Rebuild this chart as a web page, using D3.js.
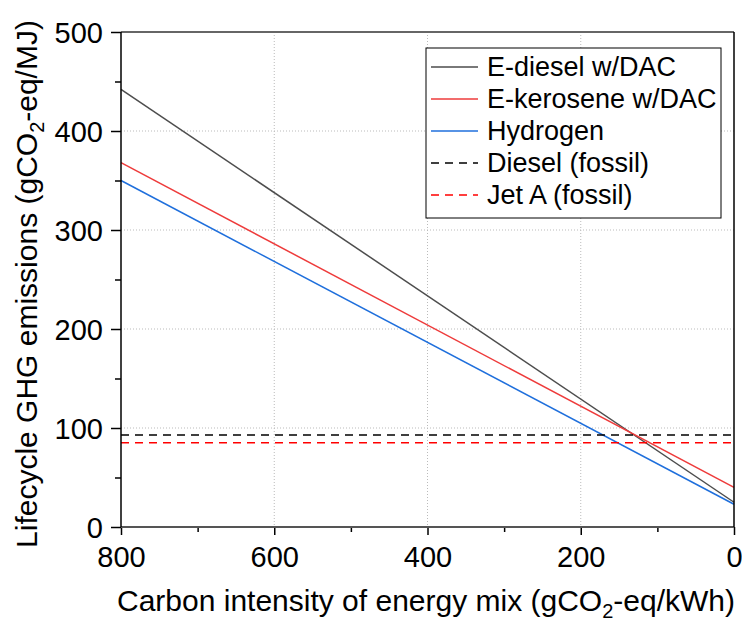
<!DOCTYPE html>
<html>
<head>
<meta charset="utf-8">
<script src="https://cdn.jsdelivr.net/npm/d3@7"></script>
<style>
  body { margin: 0; background: #fff; }
  text { font-family: "Liberation Sans", Arial, sans-serif; fill: #000; }
</style>
</head>
<body>
<svg id="chart"></svg>
<script>
// carbon intensity of the energy mix (x), emissions at both ends (y)
var intensity = [800, 0];
var series = ["E-diesel w/DAC", "E-kerosene w/DAC", "Hydrogen", "Diesel (fossil)", "Jet A (fossil)"];
var eDiesel = [442, 25];
var eKerosene = [368, 40];
var hydrogen = [350, 23];
var dieselFossil = [93, 93];
var jetAFossil = [85, 85];

var xTicks = [800, 600, 400, 200, 0];
var yTicks = [0, 100, 200, 300, 400, 500];

const margin = { top: 32, right: 8, bottom: 93, left: 121 },
  width = 742 - margin.left - margin.right,
  height = 620 - margin.top - margin.bottom;

const svg = d3.select("#chart")
  .attr("width", 742)
  .attr("height", 620);
const g = svg.append("g")
  .attr("transform", "translate(" + margin.left + "," + margin.top + ")");

var x = d3.scaleLinear().domain([800, 0]).range([0, width]);
var y = d3.scaleLinear().domain([0, 500]).range([height, 0]);

// dotted grid
g.selectAll("line.gx")
  .data(xTicks.filter(d => d != 800 && d != 0))
  .enter().append("line")
  .attr("x1", d => x(d)).attr("x2", d => x(d))
  .attr("y1", 0).attr("y2", height)
  .attr("stroke", "#bbb").attr("stroke-width", 1)
  .attr("stroke-dasharray", "1,2");
g.selectAll("line.gy")
  .data(yTicks.filter(d => d != 0 && d != 500))
  .enter().append("line")
  .attr("x1", 0).attr("x2", width)
  .attr("y1", d => y(d)).attr("y2", d => y(d))
  .attr("stroke", "#bbb").attr("stroke-width", 1)
  .attr("stroke-dasharray", "1,2");

// lines
var lines = [
  { name: series[0], values: eDiesel, color: "#4d4d4d", dash: null },
  { name: series[1], values: eKerosene, color: "#ee3b3b", dash: null },
  { name: series[2], values: hydrogen, color: "#1f6fdc", dash: null },
  { name: series[3], values: dieselFossil, color: "#000", dash: "8,6" },
  { name: series[4], values: jetAFossil, color: "#ff0000", dash: "8,6" }
];

var line = d3.line()
  .x(function (d, i) { return x(intensity[i]); })
  .y(function (d) { return y(d); });

g.selectAll("path.series")
  .data(lines)
  .enter().append("path")
  .attr("class", "series")
  .attr("d", d => line(d.values))
  .attr("fill", "none")
  .attr("stroke", d => d.color)
  .attr("stroke-width", 1.5)
  .attr("stroke-dasharray", d => d.dash);

// axes
var xAxis = d3.axisBottom(x).tickValues(xTicks).tickSize(8);
var xMinor = d3.axisBottom(x).tickValues([700, 500, 300, 100]).tickSize(5).tickFormat("");
var yAxis = d3.axisLeft(y).tickValues(yTicks).tickSize(10);
var yMinor = d3.axisLeft(y).tickValues([50, 150, 250, 350, 450]).tickSize(6).tickFormat("");

function styleAxis(sel) {
  sel.attr("font-family", null).attr("font-size", null);
  sel.select(".domain").remove();
  sel.selectAll("line").attr("stroke", "#000").attr("stroke-width", 1.5);
  sel.selectAll("text").style("font-size", "29px").attr("fill", "#000");
}

g.append("g").attr("transform", "translate(0," + height + ")").call(xAxis).call(styleAxis)
  .selectAll("text").attr("y", 40).attr("dy", 0);
g.append("g").attr("transform", "translate(0," + height + ")").call(xMinor).call(styleAxis);
g.append("g").call(yAxis).call(styleAxis)
  .selectAll("text").attr("x", -18).attr("dy", "0.36em");
g.append("g").call(yMinor).call(styleAxis);

// frame
g.append("line").attr("x1", 0).attr("x2", width).attr("y1", 0).attr("y2", 0)
  .attr("stroke", "#666").attr("stroke-width", 2);
g.append("line").attr("x1", 0).attr("x2", width).attr("y1", height).attr("y2", height)
  .attr("stroke", "#555").attr("stroke-width", 2);
g.append("line").attr("x1", 0).attr("x2", 0).attr("y1", 0).attr("y2", height)
  .attr("stroke", "#000").attr("stroke-width", 1.5);
g.append("line").attr("x1", width).attr("x2", width).attr("y1", 0).attr("y2", height)
  .attr("stroke", "#000").attr("stroke-width", 1.5);

// axis titles
var xt = svg.append("text")
  .attr("x", 426)
  .attr("y", 611)
  .attr("text-anchor", "middle")
  .style("font-size", "30px");
xt.append("tspan").text("Carbon intensity of energy mix (gCO");
xt.append("tspan").attr("dy", 7).style("font-size", "20px").text("2");
xt.append("tspan").attr("dy", -7).text("-eq/kWh)");

var yt = svg.append("text")
  .attr("transform", "translate(37,284) rotate(-90)")
  .attr("text-anchor", "middle")
  .style("font-size", "30px");
yt.append("tspan").text("Lifecycle GHG emissions (gCO");
yt.append("tspan").attr("dy", 7).style("font-size", "20px").text("2");
yt.append("tspan").attr("dy", -7).text("-eq/MJ)");

// legend
var lg = svg.append("g").attr("transform", "translate(426,48)");
lg.append("rect")
  .attr("width", 295).attr("height", 170)
  .attr("fill", "#fff").attr("stroke", "#000").attr("stroke-width", 1);
var item = lg.selectAll("g.item")
  .data(lines)
  .enter().append("g")
  .attr("class", "item")
  .attr("transform", (d, i) => "translate(0," + (19 + i * 32) + ")");
item.append("line")
  .attr("x1", 5).attr("x2", 52)
  .attr("stroke", d => d.color)
  .attr("stroke-width", 1.5)
  .attr("stroke-dasharray", d => d.dash);
item.append("text")
  .attr("x", 61).attr("dy", "0.35em")
  .style("font-size", "27px")
  .text(d => d.name);
</script>
</body>
</html>
